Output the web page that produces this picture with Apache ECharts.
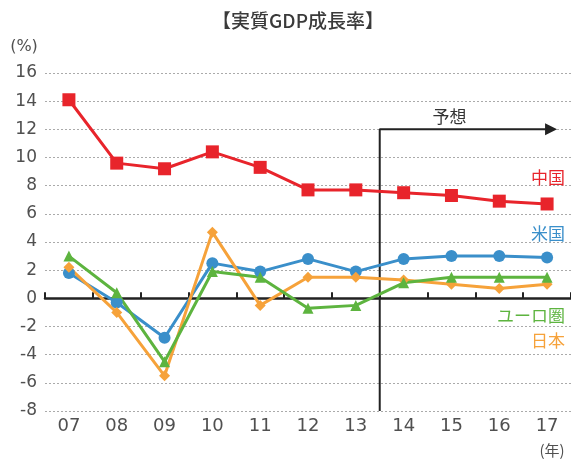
<!DOCTYPE html>
<html><head><meta charset="utf-8">
<script src="https://cdn.jsdelivr.net/npm/echarts@6/dist/echarts.min.js"></script>
<style>html,body{margin:0;padding:0;background:#fff}#c{width:571px;height:460px}</style>
</head><body><div id="c"></div>
<script>
const years = ['07','08','09','10','11','12','13','14','15','16','17'];
const china = [14.1, 9.6, 9.2, 10.4, 9.3, 7.7, 7.7, 7.5, 7.3, 6.9, 6.7];
const usa   = [1.8, -0.3, -2.8, 2.5, 1.9, 2.8, 1.9, 2.8, 3.0, 3.0, 2.9];
const euro  = [3.0, 0.4, -4.5, 1.9, 1.5, -0.7, -0.5, 1.1, 1.5, 1.5, 1.5];
const japan = [2.2, -1.0, -5.5, 4.7, -0.5, 1.5, 1.5, 1.3, 1.0, 0.7, 1.0];
const yTicks = {min: -8, max: 16, interval: 2};
const forecastFrom = 6.5;   // between 13 and 14
const arrowLevel = 12;
const arrowTo = 10;
const seriesLabels = [
  {text: '中国', value: 8.6, color: '#e8242b'},
  {text: '米国', value: 4.6, color: '#3a8fca'},
  {text: 'ユーロ圏', value: -1.2, color: '#5db43f'},
  {text: '日本', value: -3.0, color: '#f6a23a'}
];

const font = "'DejaVu Sans',sans-serif";
const chart = echarts.init(document.getElementById('c'));
function mk(name, data, color, symbol, size) {
  return {name, type: 'line', data, xAxisIndex: 0, yAxisIndex: 0,
    symbol, symbolSize: size, lineStyle: {color, width: 3}, itemStyle: {color},
    z: 3, animation: false};
}
chart.setOption({
  animation: false,
  grid: {left: 45, right: -1, top: 73, bottom: 49},
  xAxis: [
    {type: 'category', data: years, boundaryGap: true,
      axisLine: {show: false, onZero: false}, axisTick: {show: false},
      axisLabel: {color: '#505050', fontSize: 18, fontFamily: font, margin: 6}},
    {type: 'category', data: years, boundaryGap: true, position: 'bottom',
      axisLine: {show: true, onZero: true, lineStyle: {color: '#222', width: 2.5}},
      axisTick: {show: true, inside: true, length: 6, lineStyle: {color: '#222', width: 2}},
      axisLabel: {show: false}},
    {type: 'value', min: -0.5, max: 10.5, show: false}
  ],
  yAxis: {type: 'value', min: yTicks.min, max: yTicks.max, interval: yTicks.interval,
    axisLine: {show: false}, axisTick: {show: false},
    axisLabel: {color: '#505050', fontSize: 17, fontFamily: font, margin: 8},
    splitLine: {show: true, lineStyle: {color: '#aaa', type: [2, 2], width: 1}}},
  series: [
    {type: 'line', xAxisIndex: 2, yAxisIndex: 0, symbol: 'none', silent: true,
      data: [[forecastFrom, yTicks.min], [forecastFrom, arrowLevel], [arrowTo - 0.02, arrowLevel]],
      lineStyle: {color: '#222', width: 2}, z: 1, animation: false},
    mk('中国', china, '#e8242b', 'rect', 13),
    mk('米国', usa, '#3a8fca', 'circle', 12),
    mk('日本', japan, '#f6a23a', 'diamond', 11),
    mk('ユーロ圏', euro, '#5db43f', 'triangle', 11)
  ]
});

function px(x, y) { return chart.convertToPixel({xAxisIndex: 2, yAxisIndex: 0}, [x, y]); }
const g = [];
const a = px(arrowTo, arrowLevel);
g.push({type: 'polygon', shape: {points: [[a[0] - 2, a[1] - 6], [a[0] + 10, a[1]], [a[0] - 2, a[1] + 6]]}, style: {fill: '#222'}});
const fp = px((forecastFrom + arrowTo) / 2, arrowLevel);
g.push({type: 'text', x: fp[0] - 14, y: fp[1] - 4, style: {text: '予想', fill: '#333', font: "17px 'Noto Sans CJK JP'", textAlign: 'center', textVerticalAlign: 'bottom'}});
seriesLabels.forEach(l => {
  const p = px(10, l.value);
  g.push({type: 'text', x: 565, y: p[1], style: {text: l.text, fill: l.color, font: "17px 'Noto Sans CJK JP'", textAlign: 'right', textVerticalAlign: 'middle'}});
});
g.push({type: 'text', x: 298, y: 21, style: {text: '【実質GDP成長率】', fill: '#3a3a3a', font: "500 19px 'Noto Sans CJK JP'", textAlign: 'center', textVerticalAlign: 'middle'}});
g.push({type: 'text', x: 24, y: 47, style: {text: '(%)', fill: '#505050', font: "16px 'DejaVu Sans'", textAlign: 'center', textVerticalAlign: 'middle'}});
g.push({type: 'text', x: 552, y: 450, style: {text: '(年)', fill: '#505050', font: "15px 'Noto Sans CJK JP'", textAlign: 'center', textVerticalAlign: 'middle'}});
chart.setOption({graphic: g});
</script></body></html>
